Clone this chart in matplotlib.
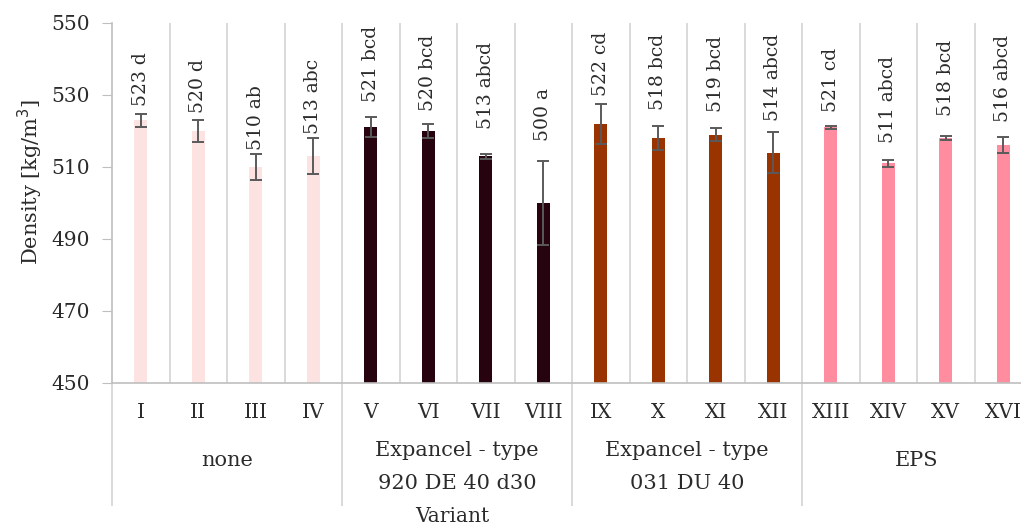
import matplotlib
matplotlib.use("Agg")
import matplotlib.pyplot as plt
import matplotlib.transforms as mtransforms

# Variants, grouped by blowing agent
variants = ["I", "II", "III", "IV", "V", "VI", "VII", "VIII",
            "IX", "X", "XI", "XII", "XIII", "XIV", "XV", "XVI"]
groups = ["none", "Expancel - type\n920 DE 40 d30",
          "Expancel - type\n031 DU 40", "EPS"]
group_size = 4

density = [523, 520, 510, 513, 521, 520, 513, 500,
           522, 518, 519, 514, 521, 511, 518, 516]
density_sd = [1.8, 3.0, 3.5, 5.0, 2.8, 2.0, 0.7, 11.7,
              5.5, 3.3, 1.9, 5.7, 0.5, 1.0, 0.6, 2.2]
letters = ["d", "d", "ab", "abc", "bcd", "bcd", "abcd", "a",
           "cd", "bcd", "bcd", "abcd", "cd", "abcd", "bcd", "abcd"]

group_colors = ["#fde2e2", "#27030f", "#993300", "#ff8c9f"]
# gap between error-bar cap and its label, in pixels
label_gap_px = [8, 7, 4, 4, 15, 13, 25, 20, 8, 16, 16, 11, 14, 17, 20, 15]

plt.rcParams["font.family"] = ["DejaVu Serif"]
TEXT = "#2b2b2b"
GRID = "#d9d9d9"

W, H = 1021, 528
fig = plt.figure(figsize=(W / 100, H / 100), dpi=100)
left_px, right_px, top_px, bot_px = 112, 1032, 23, 383
ax = fig.add_axes([left_px / W, 1 - bot_px / H,
                   (right_px - left_px) / W, (bot_px - top_px) / H])

n = len(variants)
xs = list(range(n))
colors = [group_colors[i // group_size] for i in xs]

ax.set_xlim(-0.5, n - 0.5)
ax.set_ylim(450, 550)

# category separators inside the plot
for k in range(1, n):
    ax.axvline(k - 0.5, color=GRID, lw=1.4, zorder=0)

ax.bar(xs, [d - 450 for d in density], bottom=450, width=0.23,
       color=colors, zorder=2)
ax.errorbar(xs, density, yerr=density_sd, fmt="none", ecolor="#5a5a5a",
            elinewidth=1.4, capsize=4.5, capthick=1.4, zorder=3)

for i in xs:
    ax.annotate(f"{density[i]} {letters[i]}",
                xy=(i, density[i] + density_sd[i]),
                xytext=(0, label_gap_px[i] * 0.72), textcoords="offset points",
                rotation=90, ha="center", va="bottom", fontsize=13.5,
                color=TEXT, zorder=4)

# axes styling
for s in ["top", "right"]:
    ax.spines[s].set_visible(False)
ax.spines["left"].set_color("#bfbfbf")
ax.spines["bottom"].set_color("#bfbfbf")
ax.spines["left"].set_linewidth(1.2)
ax.spines["bottom"].set_linewidth(1.2)
ax.set_yticks(range(450, 551, 20))
ax.tick_params(axis="y", length=7, color="#bfbfbf", labelsize=14.5,
               labelcolor=TEXT, pad=9)
ax.set_xticks([])

trans = mtransforms.blended_transform_factory(ax.transData, ax.transAxes)
span = bot_px - top_px

def ax_y(px):
    return -(px - bot_px) / span

for i, v in enumerate(variants):
    ax.text(i, ax_y(412), v, transform=trans, ha="center", va="center",
            fontsize=14.5, color=TEXT)

for g, name in enumerate(groups):
    cx = g * group_size + (group_size - 1) / 2
    two_line = "\n" in name
    ax.text(cx, ax_y(467 if two_line else 461), name, transform=trans,
            ha="center", va="center", fontsize=15, color=TEXT,
            linespacing=1.95)

# group separators below the axis
for g in range(len(groups) + 1):
    ax.plot([g * group_size - 0.5] * 2, [0, ax_y(505)], transform=trans,
            color=GRID, lw=1.4, clip_on=False)

fig.text(452 / W, 1 - 516 / H, "Variant", ha="center", va="center",
         fontsize=14.5, color=TEXT)
fig.text(30 / W, 1 - 182 / H, "Density [kg/m$^3$]", rotation=90,
         ha="center", va="center", fontsize=15, color=TEXT)

fig.savefig("out.png", dpi=100)
